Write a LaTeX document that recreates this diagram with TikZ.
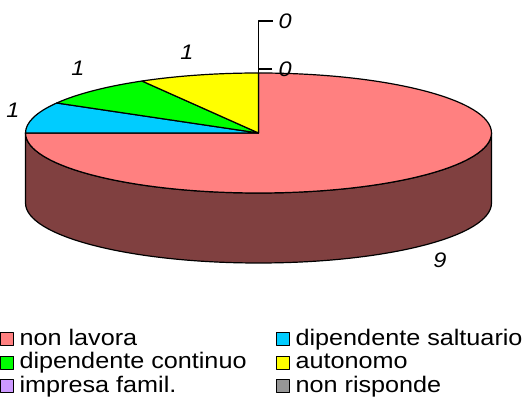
\documentclass[tikz,border=0pt]{standalone}
\usepackage{fontspec}
\setmainfont{Liberation Sans}[FakeStretch=1.12]
\usepackage{tikz}
\usetikzlibrary{calc,positioning}
\definecolor{nonlav}{HTML}{FF8080}
\definecolor{sidewall}{HTML}{804040}
\definecolor{salt}{HTML}{00CCFF}
\definecolor{cont}{HTML}{00FF00}
\definecolor{auton}{HTML}{FFFF00}
\definecolor{famil}{HTML}{CC99FF}
\definecolor{nonris}{HTML}{969696}

\begin{document}
\begin{tikzpicture}[x=1pt, y=1pt, line width=1.2pt, line join=round,
    lab/.style={font=\fontsize{21}{21}\selectfont\itshape, inner sep=0pt},
    legbox/.style={draw, line width=1pt, minimum size=13pt, inner sep=0pt},
    legtext/.style={font=\fontsize{22.5}{23}\selectfont, inner sep=0pt, text height=12pt, text depth=0pt, right=5pt of #1}]
   \useasboundingbox (0,0) rectangle (532,398);
   \coordinate (c) at (258.5,265);
   \coordinate (top) at ($(c)+(0,60)$);
   % side of the pie
   \draw[fill=sidewall] ($(c)+(-233,0)$) -- ++(0,-70)
      arc[start angle=180, end angle=360, x radius=233, y radius=60] -- ++(0,70)
      arc[start angle=0, end angle=-180, x radius=233, y radius=60] -- cycle;
   % slices
   \draw[fill=nonlav] (c) -- (top)
      arc[start angle=90, end angle=-180, x radius=233, y radius=60] -- cycle;
   \draw[fill=salt] (c) -- ($(c)+(-233,0)$)
      arc[start angle=180, end angle=150, x radius=233, y radius=60] -- cycle;
   \draw[fill=cont] (c) -- ($(c)+({233*cos(150)},{60*sin(150)})$)
      arc[start angle=150, end angle=120, x radius=233, y radius=60] -- cycle;
   \draw[fill=auton] (c) -- ($(c)+({233*cos(120)},{60*sin(120)})$)
      arc[start angle=120, end angle=90, x radius=233, y radius=60] -- cycle;
   % values
   \begin{scope}[every node/.style={lab}]
    \node (v1) at (13,288) {1};
    \node (v2) at (78,330) {1};
    \node (v3) at (187,346) {1};
    \node (v4) [anchor=west] at (278,377) {0};
    \node (v5) [anchor=west] at (278,329) {0};
    \node (v6) at (440,138) {9};
   \end{scope}
   \draw (top) |- ($(v4.west)+(-5,0)$);
   \draw ($(v5.west)+(-6,0)$) -- (v5.west -| top);
   % legend
   \node (k1) [legbox, fill=nonlav] at (7,58.5) {};
   \node (k2) [legbox, fill=cont] at (7,35) {};
   \node (k3) [legbox, fill=famil] at (7,11.5) {};
   \node (k4) [legbox, fill=salt] at (283,58.5) {};
   \node (k5) [legbox, fill=auton] at (283,35) {};
   \node (k6) [legbox, fill=nonris] at (283,11.5) {};
   \node (t1) [legtext=k1] {non lavora};
   \node (t2) [legtext=k2] {dipendente continuo};
   \node (t3) [legtext=k3] {impresa famil.};
   \node (t4) [legtext=k4] {dipendente saltuario};
   \node (t5) [legtext=k5] {autonomo};
   \node (t6) [legtext=k6] {non risponde};
\end{tikzpicture}
\end{document}
